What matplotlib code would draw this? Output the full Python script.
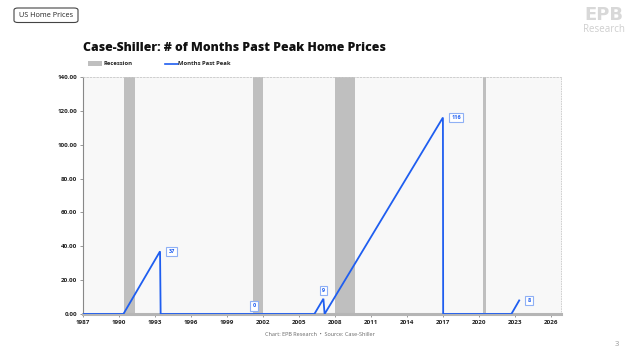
import matplotlib
matplotlib.use("Agg")
import matplotlib.pyplot as plt
from matplotlib.patches import FancyBboxPatch, Rectangle
from matplotlib.lines import Line2D

plt.rcParams['font.family'] = ['Open Sans', 'DejaVu Sans']

# ---- data ----
line_dates = [1987.0, 1990.4, 1993.45, 1993.5, 2006.3, 2007.05, 2007.15, 2017.0, 2017.02, 2022.7, 2023.35]
line_values = [0, 0, 37, 0, 0, 9, 0, 116, 0, 0, 8]
recession_start = [1990.47, 2001.2, 2008.05, 2020.3]
recession_end = [1991.33, 2002.05, 2009.7, 2020.6]
label_dates = [1993.45, 2001.3, 2007.05, 2017.0, 2023.35]
label_values = [37, 0, 9, 116, 8]
label_texts = ["37", "0", "9", "116", "8"]
x_ticks = [1987, 1990, 1993, 1996, 1999, 2002, 2005, 2008, 2011, 2014, 2017, 2020, 2023, 2026]
x_ticklabels = ["1987", "1990", "1993", "1996", "1999", "2002", "2005", "2008", "2011", "2014", "2017", "2020", "2023", "2026"]
y_ticks = [0, 20, 40, 60, 80, 100, 120, 140]

BLUE = "#1f5ef0"
REC = "#bfbfbf"

fig = plt.figure(figsize=(6.4, 3.56), dpi=100)
ax = fig.add_axes([0.129, 0.118, 0.747, 0.666])
ax.set_facecolor("#f8f8f8")

for s, e in zip(recession_start, recession_end):
    ax.axvspan(s, e, color=REC, lw=0, zorder=1)

ax.plot(line_dates, line_values, color=BLUE, lw=1.3, zorder=3, solid_joinstyle='miter')

# label offsets in points
offsets = [(6, 0), (0, 4), (0, 4), (6, 0), (6, 0)]
for d, v, t, off in zip(label_dates, label_values, label_texts, offsets):
    ha = 'left' if off[0] > 0 else 'center'
    ax.annotate(t, (d, v), xytext=off, textcoords='offset points',
                ha=ha, va='bottom' if off[1] > 0 else 'center',
                fontsize=4, color=BLUE, fontweight='bold', zorder=5,
                bbox=dict(boxstyle='square,pad=0.4', fc='white', ec='#8fb0f5', lw=0.8))

ax.set_xlim(1987, 2026.8)
ax.set_ylim(0, 140)
ax.set_xticks(x_ticks)
ax.set_xticklabels(x_ticklabels)
ax.set_yticks(y_ticks)
ax.set_yticklabels([f"{v:.2f}" for v in y_ticks])
ax.tick_params(axis='both', labelsize=4.5, colors='#222222', length=2, width=0.6, pad=2)
ax.tick_params(axis='x', color='#888888')
ax.tick_params(axis='y', color='#888888')
for lbl in ax.get_xticklabels() + ax.get_yticklabels():
    lbl.set_fontweight('bold')

ax.spines['left'].set_color('#888888')
ax.spines['left'].set_linewidth(0.8)
ax.spines['bottom'].set_color('#b5b5b5')
ax.spines['bottom'].set_linewidth(2.2)
ax.spines['top'].set_color('#c8c8c8')
ax.spines['top'].set_linestyle((0, (2, 2)))
ax.spines['top'].set_linewidth(0.6)
ax.spines['right'].set_color('#c8c8c8')
ax.spines['right'].set_linestyle((0, (1, 2)))
ax.spines['right'].set_linewidth(0.6)

# Title
fig.text(0.129, 1 - 48.3 / 356, "Case-Shiller: # of Months Past Peak Home Prices", fontsize=8.8,
         fontweight='heavy', color='#111111', ha='left', va='center')

# Legend
fig.patches.append(Rectangle((88/640, 1-66/356), 14/640, 5/356, transform=fig.transFigure,
                             facecolor=REC, edgecolor='none'))
fig.text(103/640, 1-63.5/356, "Recession", fontsize=4.2, color='#222222', va='center', fontweight='bold')
fig.lines.append(Line2D([165/640, 178/640], [1-63.5/356, 1-63.5/356], transform=fig.transFigure,
                        color=BLUE, lw=1.2))
fig.text(178.5/640, 1-63.5/356, "Months Past Peak", fontsize=4.2, color='#222222', va='center', fontweight='bold')

# Top-left tag
tag = FancyBboxPatch((14/640, 1-22.5/356), 64/640, 14.5/356, boxstyle='round,pad=0,rounding_size=0.006',
                     transform=fig.transFigure, facecolor='white', edgecolor='#444444', lw=0.8)
fig.patches.append(tag)
fig.text(46/640, 1-15.5/356, "US Home Prices", fontsize=5.2, color='#222222', ha='center', va='center')

# Logo
fig.text(604/640, 1-15/356, "EPB", fontsize=13, color='#d8d8d8', ha='center', va='center',
         fontweight='bold', family='DejaVu Sans')
fig.text(604/640, 1-30/356, "Research", fontsize=7, color='#cfcfcf', ha='center', va='center')

# Footer
fig.text(320/640, 1-334/356, "Chart: EPB Research  \u2022  Source: Case-Shiller", fontsize=4,
         color='#666666', ha='center', va='center')
fig.text(617/640, 1-344/356, "3", fontsize=5.5, color='#999999', ha='center', va='center')

fig.savefig("out.png", dpi=100)
